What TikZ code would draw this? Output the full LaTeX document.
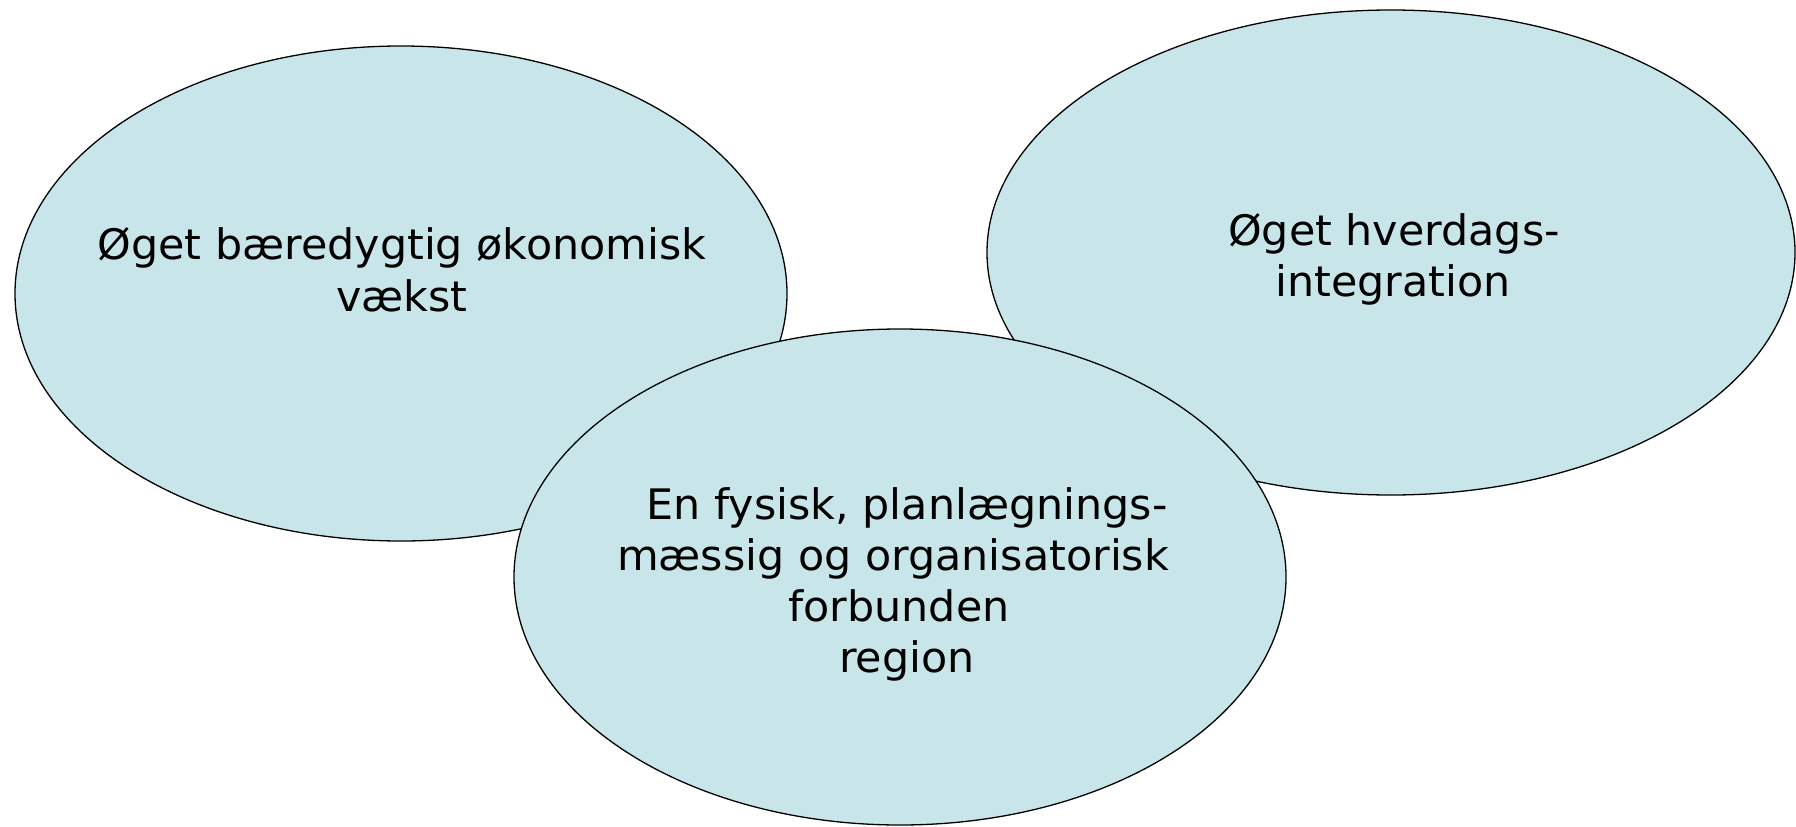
\documentclass[tikz,border=0pt]{standalone}
\usepackage{fontspec}
\setmainfont[FakeStretch=1.02]{DejaVu Sans}
\usetikzlibrary{shapes.geometric}
\definecolor{bubble}{HTML}{C8E6E9}
\tikzset{
  bubble/.style={ellipse, draw=black, line width=1.3pt, fill=bubble, inner sep=0pt},
  lbl/.style={anchor=base, inner sep=0pt, font=\fontsize{42}{51}\selectfont}
}
\begin{document}
\begin{tikzpicture}[x=1pt,y=-1pt]
\useasboundingbox (0,0) rectangle (1796,827);
% left
\node[bubble, minimum width=772pt, minimum height=495pt] (left) at (401,293.5) {};
\node[lbl] (left1) at (402,259) {Øget bæredygtig økonomisk};
\node[lbl] (left2) at (402,311) {vækst};
% right
\node[bubble, minimum width=808pt, minimum height=485pt] (right) at (1391,252.5) {};
\node[lbl] (right1) at (1394,245) {Øget hverdags-};
\node[lbl] (right2) at (1393,296) {integration};
% bottom
\node[bubble, minimum width=772pt, minimum height=496pt] (bottom) at (900,577) {};
\node[lbl] (bottom1) at (907,519) {En fysisk, planlægnings-};
\node[lbl] (bottom2) at (893,570) {mæssig og organisatorisk};
\node[lbl] (bottom3) at (899,621) {forbunden};
\node[lbl] (bottom4) at (907,672) {region};
\end{tikzpicture}
\end{document}
